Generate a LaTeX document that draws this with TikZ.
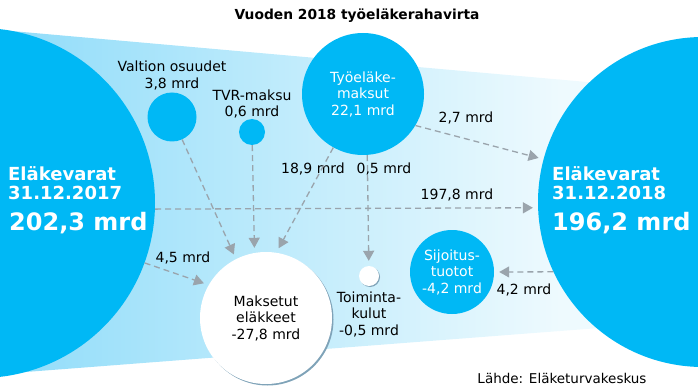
\documentclass[tikz,border=0pt]{standalone}
\usepackage{fontspec}
\setmainfont{DejaVu Sans}
\usetikzlibrary{arrows.meta,positioning,calc}

\definecolor{varacol}{HTML}{00B8F5}
\definecolor{bandL}{RGB}{140,219,249}
\definecolor{bandR}{RGB}{238,250,254}
\definecolor{flowcol}{HTML}{9AA4AC}
\definecolor{shadowcol}{HTML}{7FA3B8}

\begin{document}
\begin{tikzpicture}
            [
            x=1pt, y=-1pt,
            every node/.style={font=\fontsize{14}{16.5}\selectfont, align=center, inner sep=0pt},
            fund/.style={circle, fill=varacol, minimum size=#1, inner sep=0pt},
            paid/.style={circle, fill=white, minimum size=#1, inner sep=0pt},
            bigtext/.style={font=\bfseries\fontsize{18}{20}\selectfont, text=white, anchor=base west},
            hugetext/.style={font=\bfseries\fontsize{24}{28}\selectfont, text=white, anchor=base west},
            flow/.style={color=flowcol, line width=1.3pt, dash pattern=on 6pt off 4pt,
                -{Triangle[length=10pt,width=11pt]}, shorten >=5pt}
            ]
            \useasboundingbox (0,0) rectangle (698,390);
            \clip (0,0) rectangle (698,390);

            % band between the two funds
            \shade [left color=bandL, right color=bandR] (-20,28.2) -- (560,79.6) -- (560,331) -- (-20,375.5) -- cycle;
            \fill [bandR] (559,79.5) -- (703,92.3) -- (703,320) -- (559,331.1) -- cycle;

            \node (vara17) [fund=350pt] at (-20,203) {};
            \node (vara18) [fund=330pt] at (703,202) {};

            \node (vara17a) [bigtext] at (8,180) {Eläkevarat};
            \node (vara17b) [bigtext] at (8,200) {31.12.2017};
            \node (vara17c) [hugetext] at (9,230) {202,3 mrd};
            \node (vara18a) [bigtext] at (552,180) {Eläkevarat};
            \node (vara18b) [bigtext] at (552,200) {31.12.2018};
            \node (vara18c) [hugetext] at (552,230) {196,2 mrd};

            \node (valtio) [fund=49pt] at (172,117) {};
            \node (tvr) [fund=26pt] at (252,132) {};
            \node (tyel) [fund=122pt, text=white] at (363,94) {Työeläke-\\maksut\\22,1 mrd};
            \node (sijoitus) [fund=84pt, text=white] at (452,272) {Sijoitus-\\tuotot\\-4,2 mrd};

            \fill [shadowcol] (267.5,319.5) circle (66pt);
            \node (maksetut) [paid=132pt] at (266,318) {Maksetut\\eläkkeet\\-27,8 mrd};
            \fill [shadowcol] (370,277) circle (10pt);
            \node (toiminta) [paid=20pt] at (369,276) {};

            \node (valtiolab) [above=2pt of valtio] {Valtion osuudet\\3,8 mrd};
            \node (tvrlab) [above=0pt of tvr] {TVR-maksu\\0,6 mrd};
            \node (toimintalab) [below=5pt of toiminta] {Toiminta-\\kulut\\-0,5 mrd};

            % flow amounts
            \node (f189) at (313,169) {18,9 mrd};
            \node (f05) at (384,169) {0,5 mrd};
            \node (f27) at (466,118) {2,7 mrd};
            \node (f1978) at (457,195) {197,8 mrd};
            \node (f45) at (183,258) {4,5 mrd};
            \node (f42) at (524,290) {4,2 mrd};

            \foreach \i/\j in {valtio/maksetut.117, tvr/maksetut.100, tyel.-119/maksetut.81,
                vara17.-20/maksetut.150, vara17.-2/vara18.182, tyel.-31/vara18.165,
                tyel.-86/toiminta, vara18.-155/sijoitus.east}
            \draw [flow] (\i) -- (\j);

            \node (title) [font=\bfseries\fontsize{13.8}{15}\selectfont] at (357,16) {Vuoden 2018 työeläkerahavirta};
            \node (source) [font=\fontsize{13.5}{15}\selectfont] at (562,378) {Lähde: Eläketurvakeskus};
        \end{tikzpicture}
\end{document}
